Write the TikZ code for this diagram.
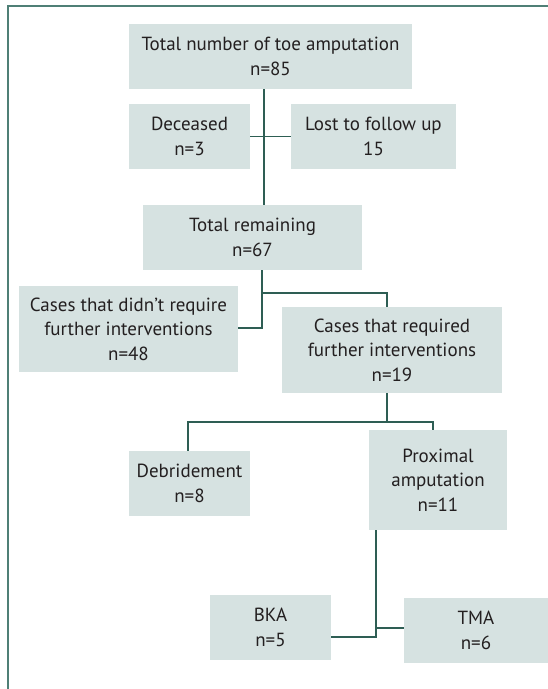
\documentclass[tikz,border=0pt]{standalone}
\usepackage{fontspec}
\setmainfont{PT Sans}
\definecolor{boxfill}{HTML}{D6E2E1}
\definecolor{linec}{HTML}{2E5E54}
\definecolor{framec}{HTML}{4F7F76}
\definecolor{txt}{HTML}{231F20}
\begin{document}
\begin{tikzpicture}[x=1pt,y=-1pt,
  box/.style={fill=boxfill, draw=none, inner sep=0pt, align=center, text=txt,
    font=\fontsize{19}{24.5}\selectfont},
  conn/.style={draw=linec, line width=1.4pt}]
\useasboundingbox (0,0) rectangle (548,689);
\draw[framec, line width=2pt] (8,689) -- (8,6) -- (548,6);
\node[box, minimum width=283, minimum height=65] (top) at (270.5,56.5) {Total number of toe amputation\\n=85};
\node[box, minimum width=121, minimum height=65] (dec) at (189.5,136.5) {Deceased\\n=3};
\node[box, minimum width=165, minimum height=65] (lost) at (373.5,136.5) {Lost to follow up\\15};
\node[box, minimum width=219, minimum height=65] (rem) at (252.5,237.5) {Total remaining\\n=67};
\node[box, minimum width=219, minimum height=86] (nreq) at (128.5,329) {Cases that didn’t require\\further interventions\\n=48};
\node[box, minimum width=220, minimum height=86] (req) at (392,350) {Cases that required\\further interventions\\n=19};
\node[box, minimum width=121, minimum height=65] (deb) at (189.5,483.5) {Debridement\\n=8};
\node[box, minimum width=138, minimum height=100] (prox) at (438,480) {Proximal\\amputation\\n=11};
\node[box, minimum width=121, minimum height=65] (bka) at (270.5,627.5) {BKA\\n=5};
\node[box, minimum width=144, minimum height=65] (tma) at (476,630.5) {TMA\\n=6};
% junction coordinates
\coordinate (j1) at (264,137);
\coordinate (j2) at (262,293);
\coordinate (j3) at (387,422);
\coordinate (j4) at (376,637);
\coordinate (j5) at (376,628);
\draw[conn] (top.south -| j1) -- (rem.north -| j1);
\draw[conn] (dec.east) -- (lost.west);
\draw[conn] (rem.south -| j2) -- (j2) -| (req.north -| j3);
\draw[conn] (j2) |- (nreq.east |- 0,328);
\draw[conn] (req.south -| j3) -- (j3);
\draw[conn] (deb.north -| 188,0) |- (j3) -| (prox.north -| 433,0);
\draw[conn] (prox.south -| j4) -- (j4) -- (bka.east |- j4);
\draw[conn] (j5) -- (tma.west |- j5);
\end{tikzpicture}
\end{document}
